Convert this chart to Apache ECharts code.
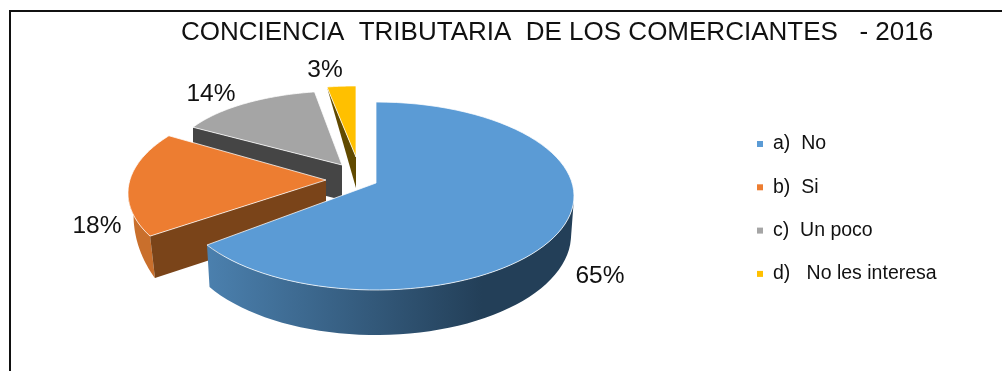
<!DOCTYPE html>
<html>
<head>
<meta charset="utf-8">
<script src="https://cdn.jsdelivr.net/npm/echarts@6/dist/echarts.min.js"></script>
<style>html,body{margin:0;padding:0;background:#fff}#c{width:1002px;height:371px}</style>
</head>
<body>
<div id="c"></div>
<script>
const titleText = 'CONCIENCIA  TRIBUTARIA  DE LOS COMERCIANTES   - 2016';
const categories = ['a)  No', 'b)  Si', 'c)  Un poco', 'd)   No les interesa'];
const percentValues = [65, 18, 14, 3];
const sliceColors = ['#5b9bd5', '#ed7d31', '#a5a5a5', '#ffc000'];

// Drawing of the tilted, exploded pie (the look of each slice, not its size)
const sliceLooks = [
  { apex:[376,183], centre:[376,196], rx:198, ry:94, startShift:0, endShift:4.6, depth:39, bulge:6, lowScale:0.985,
    side:{type:'linear',x:0,y:0,x2:1,y2:0,colorStops:[{offset:0,color:'#4b80ae'},{offset:0.75,color:'#233f58'},{offset:1,color:'#233f58'}]},
    face:null, label:[600,276], z:5 },
  { apex:[326,180], centre:[326,193], rx:198, ry:94, startShift:8.7, endShift:8.7, depth:22, bulge:44, lowScale:0.972,
    apexDepth:42, rimDepth:42, side:'#c96f2c', face:'#7a4419', label:[97,226], z:4 },
  { apex:[342,165], centre:[342,161], rx:170, ry:70, startShift:0, endShift:1.5, depth:35, bulge:0, lowScale:1,
    apexDepth:35, rimDepth:35, side:'#636363', face:'#454545', label:[211,94], z:3 },
  { apex:[356,157], centre:[356,142], rx:155, ry:56, startShift:0, endShift:0, depth:31, bulge:0, lowScale:1,
    apexDepth:31, rimDepth:0, side:'#614a00', face:'#614a00', label:[325,70], z:2 }
];

const total = percentValues.reduce((a, b) => a + b, 0);
const cumulative = [];
percentValues.reduce((sum, v, i) => { cumulative[i] = sum; return sum + v; }, 0);

function rimPoint(look, deg) {
  const t = deg * Math.PI / 180;
  return [look.centre[0] + look.rx * Math.sin(t), look.centre[1] - look.ry * Math.cos(t)];
}
function lowPoint(look, deg) {
  const t = deg * Math.PI / 180;
  const p = rimPoint(look, deg);
  return [look.centre[0] + (p[0] - look.centre[0]) * look.lowScale,
          p[1] + look.depth + look.bulge * Math.max(0, -Math.cos(t))];
}

function makeRenderItem(i) {
  return function (params, api) {
    const look = sliceLooks[i];
    const value = api.value(0);
    const a0 = cumulative[i] / total * 360 + look.startShift;
    const a1 = (cumulative[i] + value) / total * 360 + look.endShift;
    const angles = [];
    for (let k = 0; k <= 80; k++) angles.push(a0 + (a1 - a0) * k / 80);
    const rim = angles.map(d => rimPoint(look, d));
    const children = [];
    // outer wall: only the part of the rim that faces the viewer
    const frontAngles = angles.filter(d => d >= 90 && d <= 270);
    if (frontAngles.length > 1) {
      const top = frontAngles.map(d => rimPoint(look, d));
      const low = frontAngles.map(d => lowPoint(look, d)).reverse();
      children.push({ type:'polygon', shape:{ points: top.concat(low) }, style:{ fill: look.side } });
    }
    // cut wall from apex to the slice's starting rim point
    if (look.face) {
      const r0 = rim[0];
      children.push({ type:'polygon', shape:{ points:[r0, look.apex,
        [look.apex[0], look.apex[1] + look.apexDepth],
        [look.centre[0] + (r0[0] - look.centre[0]) * look.lowScale, r0[1] + look.rimDepth]] },
        style:{ fill: look.face } });
    }
    // top face
    children.push({ type:'polygon', shape:{ points:[look.apex].concat(rim) },
      style:{ fill: sliceColors[i], stroke:'rgba(255,255,255,0.75)', lineWidth:1, lineJoin:'round' } });
    // percentage label
    children.push({ type:'text', style:{ x: look.label[0], y: look.label[1], text: value + '%',
      fill:'#111', font:'24.5px "Liberation Sans", Arial, sans-serif', align:'center', verticalAlign:'middle' } });
    return { type:'group', children };
  };
}

const chart = echarts.init(document.getElementById('c'), null, { renderer:'canvas' });
chart.setOption({
  animation:false,
  backgroundColor:'#fff',
  title:{ text:titleText, left:176, top:15,
    textStyle:{ fontFamily:'"Liberation Sans", Arial, sans-serif', fontSize:26, fontWeight:'normal', color:'#111' } },
  legend:{ orient:'vertical', left:752, top:129, itemWidth:6, itemHeight:6, itemGap:23.3, icon:'rect',
    textStyle:{ fontFamily:'"Liberation Sans", Arial, sans-serif', fontSize:19.5, color:'#111', padding:[0,0,0,5] },
    data: categories },
  graphic:[
    { type:'polyline', shape:{ points:[[10,371],[10,11],[1002,11]] }, style:{ stroke:'#111', lineWidth:2, fill:null } }
  ],
  series: categories.map((name, i) => ({
    type:'custom', name, coordinateSystem:'none', z: sliceLooks[i].z,
    itemStyle:{ color: sliceColors[i] },
    renderItem: makeRenderItem(i),
    data:[[percentValues[i]]],
    silent:true
  }))
});
</script>
</body>
</html>
